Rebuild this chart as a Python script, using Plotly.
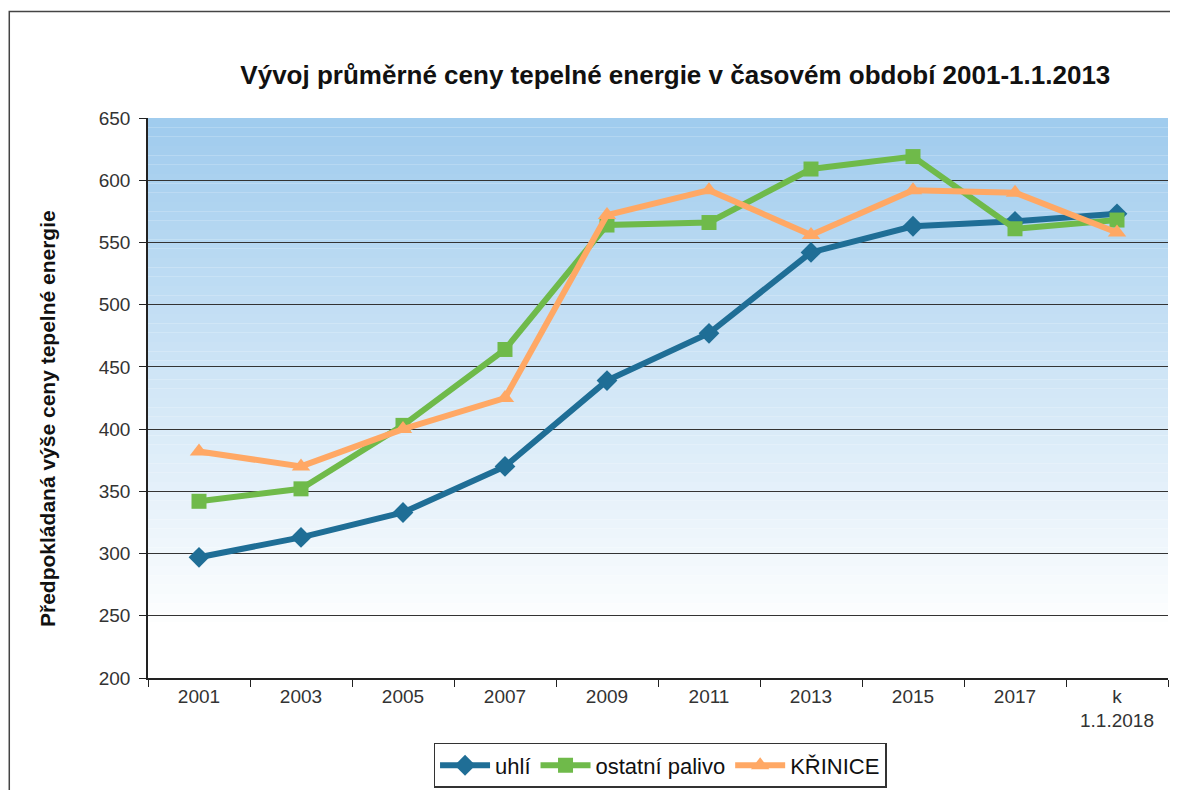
import plotly.graph_objects as go

categories = ["2001", "2003", "2005", "2007", "2009", "2011", "2013", "2015", "2017", "k<br>1.1.2018"]
uhli = [297, 313, 333, 370, 439, 477, 542, 563, 567, 573]
ostatni = [342, 352, 403, 464, 564, 566, 609, 619, 561, 568]
krinice = [382, 370, 400, 425, 572, 592, 556, 592, 590, 558]

fig = go.Figure()
fig.add_trace(go.Scatter(x=categories, y=uhli, name="uhlí", mode="lines+markers",
                         line=dict(color="#1f6e96", width=6),
                         marker=dict(symbol="diamond", size=16, color="#1f6e96")))
fig.add_trace(go.Scatter(x=categories, y=ostatni, name="ostatní palivo", mode="lines+markers",
                         line=dict(color="#6fba4a", width=6),
                         marker=dict(symbol="square", size=15, color="#6fba4a")))
fig.add_trace(go.Scatter(x=categories, y=krinice, name="KŘINICE", mode="lines+markers",
                         line=dict(color="#ffa865", width=6),
                         marker=dict(symbol="triangle-up", size=16, color="#ffa865")))

# gradient plot background
shapes = []
n = 60
top = (160, 204, 238)
bot = (255, 255, 255)
for i in range(n):
    t = min(1.0, i / (n - 6))
    c = tuple(int(top[k] + (bot[k] - top[k]) * t) for k in range(3))
    shapes.append(dict(type="rect", xref="x domain", yref="y domain",
                       x0=0, x1=1, y0=1 - (i + 1) / n, y1=1 - i / n,
                       fillcolor="rgb(%d,%d,%d)" % c, line=dict(width=0), layer="below"))
# outer frame
shapes.append(dict(type="rect", xref="paper", yref="paper", x0=-0.136, x1=1.02, y0=-0.3, y1=1.19,
                   line=dict(color="#444", width=1.5), fillcolor="rgba(0,0,0,0)"))

fig.update_layout(
    width=1162, height=782,
    margin=dict(l=140, r=2, t=110, b=110),
    paper_bgcolor="white", plot_bgcolor="rgba(0,0,0,0)",
    font=dict(family="Liberation Sans, Arial, sans-serif", color="#222", size=19),
    title=dict(text="<b>Vývoj průměrné ceny tepelné energie v časovém období 2001-1.1.2013</b>",
               x=0.517, xanchor="center", xref="paper", yref="container", y=0.914, yanchor="middle",
               font=dict(family="Liberation Sans, Arial", size=26, color="#111")),
    shapes=shapes,
    annotations=[dict(text="<b>Předpokládaná výše ceny tepelné energie</b>",
                      xref="paper", yref="paper", x=-0.098, y=0.4626, textangle=-90,
                      showarrow=False, xanchor="center", yanchor="middle",
                      font=dict(size=21, color="#111"))],
    showlegend=True,
    legend=dict(orientation="h", x=0.502, xanchor="center", y=-0.116, yanchor="top",
                bordercolor="#333", borderwidth=1.5, bgcolor="white", itemwidth=50,
                font=dict(size=22, color="#111"), tracegroupgap=0),
)
fig.update_xaxes(type="category", range=[-0.5, 9.5], showgrid=False, showline=True,
                 linecolor="#222", linewidth=1.5,
                 ticks="outside", tickson="boundaries", ticklen=7, tickcolor="#222",
                 tickfont=dict(size=19, color="#333"))
fig.update_yaxes(range=[200, 650], dtick=50, showgrid=True, gridcolor="#333", gridwidth=1,
                 showline=True, linecolor="#222", linewidth=1.5, ticks="outside", ticklen=7,
                 ticklabelstandoff=5,
                 tickcolor="#222", zeroline=False, tickfont=dict(size=19, color="#333"))

fig.write_html("out.html")
